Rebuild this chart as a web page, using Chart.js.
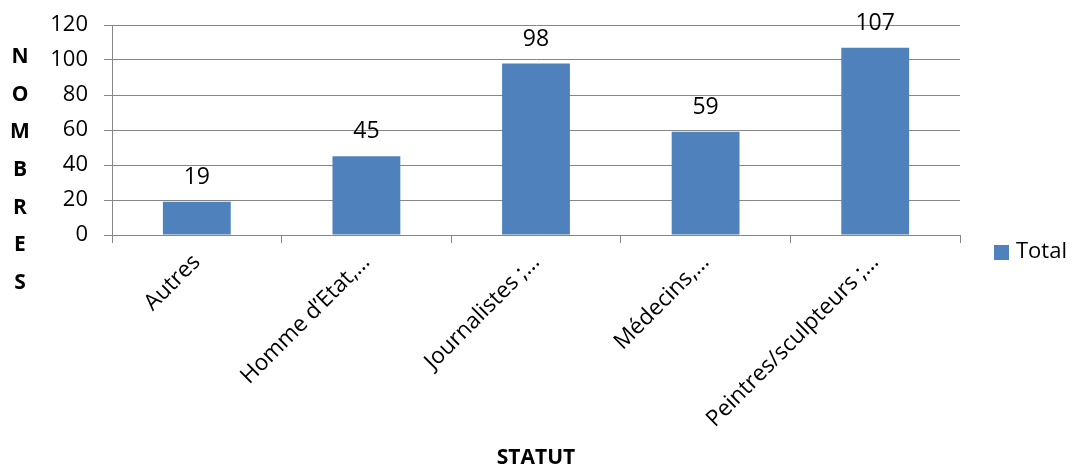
<!DOCTYPE html>
<html>
<head>
<meta charset="utf-8">
<script src="https://cdn.jsdelivr.net/npm/chart.js@4"></script>
<style>
  html, body { margin: 0; padding: 0; background: #fff; }
  #wrap { width: 1083px; height: 471px; position: relative; }
</style>
</head>
<body>
<div id="wrap"><canvas id="chart"></canvas></div>
<script>
// Chart data
const categories = ["Autres", "Homme d\u2019Etat,\u2026", "Journalistes ;\u2026", "M\u00e9decins,\u2026", "Peintres/sculpteurs ;\u2026"];
const totals = [19, 45, 98, 59, 107];
const seriesName = "Total";
const yTicks = [0, 20, 40, 60, 80, 100, 120];
const yTitle = "NOMBRES";
const xTitle = "STATUT";

const FONT = "'Open Sans', 'Liberation Sans', sans-serif";
const GRID = "#868686";
const BAR = "#4F81BD";

// value labels above bars, stacked y title and legend
const extras = {
    id: "extras",
    afterDatasetsDraw(chart) {
        const ctx = chart.ctx;
        ctx.save();
        ctx.fillStyle = "#000";
        ctx.font = "23px " + FONT;
        ctx.textAlign = "center";
        ctx.textBaseline = "alphabetic";
        chart.getDatasetMeta(0).data.forEach((bar, i) => {
            ctx.fillText(String(chart.data.datasets[0].data[i]), bar.x, bar.y - 18);
        });

        // y title, one letter per line
        ctx.font = "bold 21px " + FONT;
        ctx.textBaseline = "middle";
        yTitle.split("").forEach((ch, i) => {
            ctx.fillText(ch, 20, 57 + i * 37.7);
        });

        // legend
        const ds = chart.data.datasets[0];
        ctx.fillStyle = ds.backgroundColor;
        ctx.fillRect(994, 245, 15, 15);
        ctx.fillStyle = "#000";
        ctx.font = "22px " + FONT;
        ctx.textAlign = "left";
        ctx.fillText(ds.label, 1016, 252);
        ctx.restore();
    }
};

new Chart(document.getElementById("chart"), {
    type: "bar",
    data: {
        labels: categories,
        datasets: [{
            label: seriesName,
            data: totals,
            backgroundColor: BAR,
            borderWidth: 0,
            categoryPercentage: 1,
            barPercentage: 0.4
        }]
    },
    options: {
        responsive: true,
        maintainAspectRatio: false,
        animation: false,
        layout: { padding: { left: 0, right: 123, top: 25, bottom: 0 } },
        plugins: {
            legend: { display: false },
            tooltip: { enabled: false }
        },
        scales: {
            x: {
                offset: true,
                grid: {
                    offset: true,
                    drawOnChartArea: false,
                    drawTicks: true,
                    tickLength: 8,
                    color: GRID,
                    lineWidth: 1
                },
                border: { display: true, color: GRID, width: 1 },
                ticks: {
                    autoSkip: false,
                    maxRotation: 45,
                    minRotation: 45,
                    padding: 6,
                    color: "#000",
                    font: { family: FONT, size: 22.5 }
                },
                title: {
                    display: true,
                    text: xTitle,
                    color: "#000",
                    padding: 0,
                    font: { family: FONT, size: 21, weight: "bold" }
                },
                afterFit: scale => { scale.height = 236; }
            },
            y: {
                min: 0,
                max: 120,
                afterBuildTicks: scale => { scale.ticks = yTicks.map(v => ({ value: v })); },
                grid: {
                    color: GRID,
                    lineWidth: 1,
                    tickLength: 8
                },
                border: { display: true, color: GRID, width: 1 },
                ticks: {
                    padding: 16,
                    color: "#000",
                    font: { family: FONT, size: 22 }
                },
                afterFit: scale => {
                    scale.width = 112;
                    scale.paddingTop = 0;
                    scale.paddingBottom = 0;
                }
            }
        }
    },
    plugins: [extras]
});
</script>
</body>
</html>
